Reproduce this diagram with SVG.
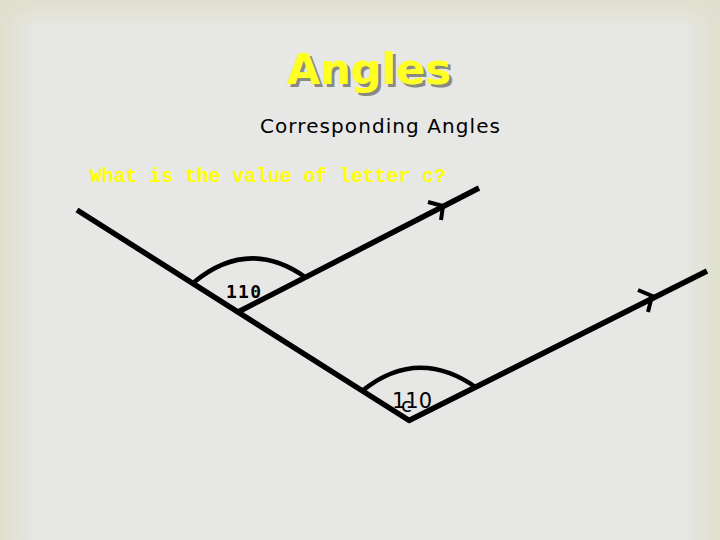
<svg xmlns="http://www.w3.org/2000/svg" width="720" height="540" viewBox="0 0 720 540">
<defs>
<linearGradient id="gl" x1="0" y1="0" x2="1" y2="0"><stop offset="0" stop-color="#dfdfcd"/><stop offset="1" stop-color="#dfdfcd" stop-opacity="0"/></linearGradient>
<linearGradient id="gr" x1="1" y1="0" x2="0" y2="0"><stop offset="0" stop-color="#dfdfcd"/><stop offset="1" stop-color="#dfdfcd" stop-opacity="0"/></linearGradient>
<linearGradient id="gt" x1="0" y1="0" x2="0" y2="1"><stop offset="0" stop-color="#dfdfcd"/><stop offset="1" stop-color="#dfdfcd" stop-opacity="0"/></linearGradient>
<style>
.ln{stroke:#000;stroke-width:5.5;fill:none;stroke-linecap:butt}
.arc{stroke:#000;stroke-width:4.5;fill:none}
.tk{stroke:#000;stroke-width:4;fill:none}
.lbl{font-family:"DejaVu Sans Mono","Liberation Mono",monospace;font-weight:bold;fill:#000}
</style>
</defs>
<rect width="720" height="540" fill="#e7e7e5"/>
<rect x="0" y="0" width="36" height="540" fill="url(#gl)"/>
<rect x="684" y="0" width="36" height="540" fill="url(#gr)"/>
<rect x="0" y="0" width="720" height="28" fill="url(#gt)"/>
<g id="title">
<text x="372" y="87" text-anchor="middle" font-family="'DejaVu Sans',sans-serif" font-weight="bold" font-size="43" fill="#8a8a80">Angles</text>
<text x="369" y="84" text-anchor="middle" font-family="'DejaVu Sans',sans-serif" font-weight="bold" font-size="43" fill="#ffff22">Angles</text>
</g>
<g id="subtitle">
<text x="380" y="133" text-anchor="middle" font-family="'DejaVu Sans',sans-serif" font-size="20" fill="#000" textLength="240">Corresponding Angles</text>
</g>
<g id="question">
<text x="90" y="182" font-family="'Liberation Mono',monospace" font-weight="bold" font-size="20" fill="#ffff00" textLength="356">What is the value of letter c?</text>
</g>
<g id="connectors">
<line class="ln" x1="77" y1="210" x2="410" y2="421"/>
<line class="ln" x1="238" y1="312" x2="479" y2="188"/>
<line class="ln" x1="408" y1="421" x2="707" y2="271"/>
<path class="arc" d="M193,283 Q248,237 305,277"/>
<path class="arc" d="M362,391 Q418,346 477,388"/>
<path class="tk" d="M428,202 L443,206 L441,220"/>
<path class="tk" d="M638,290 L652,296 L648,312"/>
</g>
<g id="angle1">
<text class="lbl" x="226" y="298" font-size="18" textLength="35">110</text>
</g>
<g id="angle2">
<text x="392" y="408" font-family="'DejaVu Sans',sans-serif" font-size="21" fill="#000">110</text>
<text x="401" y="412" font-family="'DejaVu Sans',sans-serif" font-size="20" fill="#000">c</text>
</g>
</svg>
